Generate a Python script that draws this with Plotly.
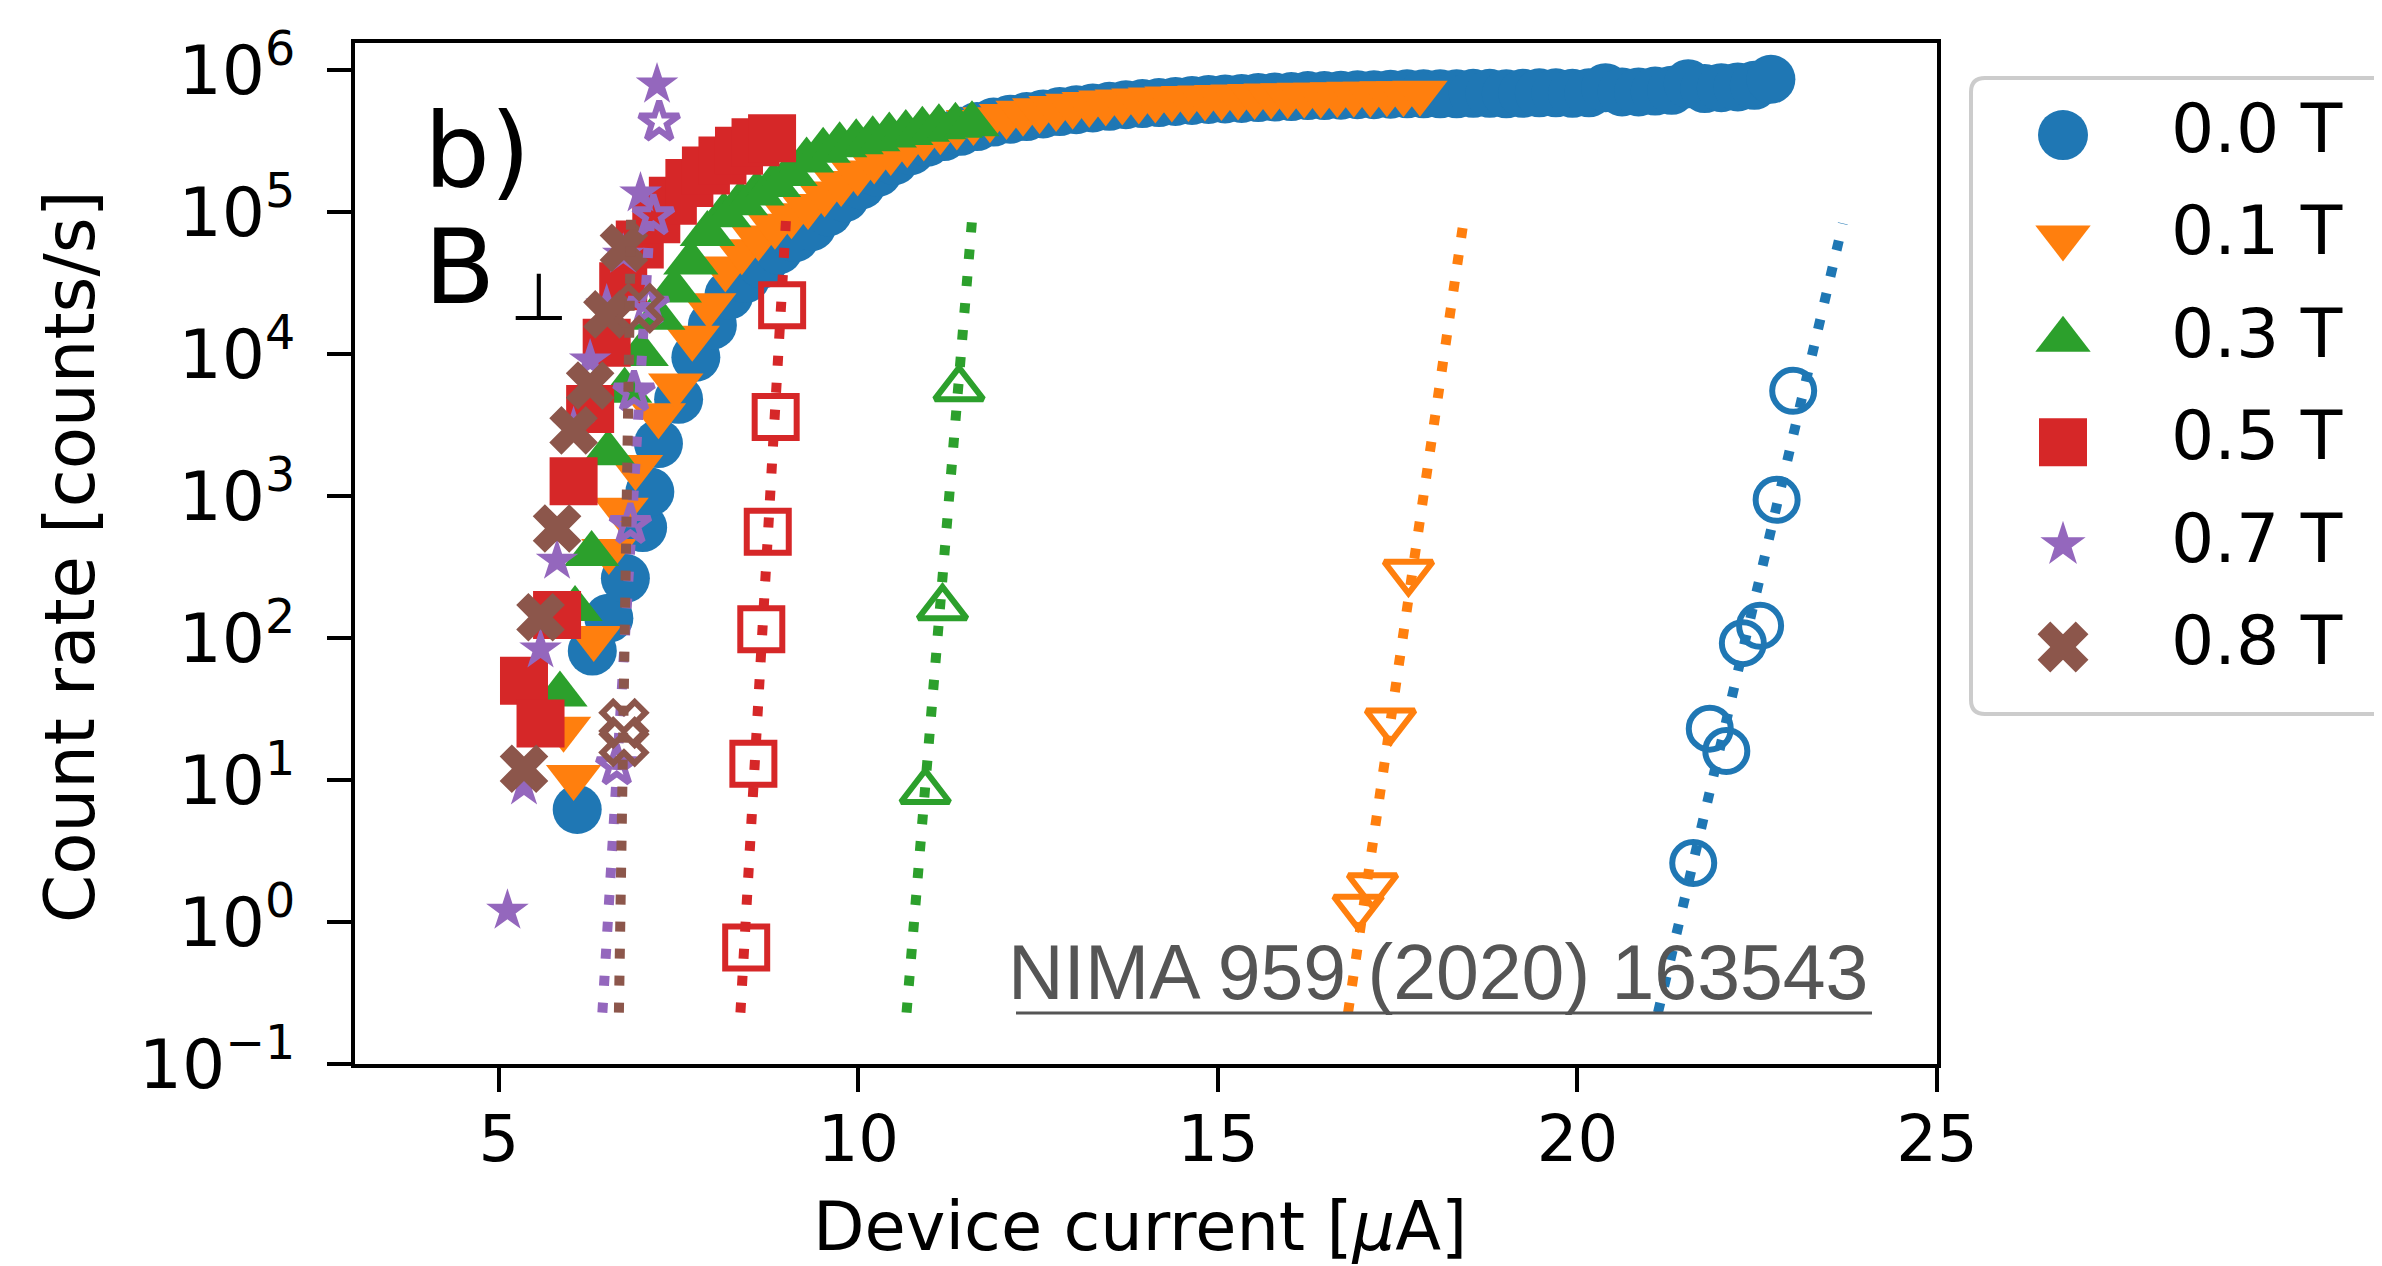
import plotly.graph_objects as go

W, H = 2382, 1266

# ---------------- data ----------------
field_labels = ["0.0 T", "0.1 T", "0.3 T", "0.5 T", "0.7 T", "0.8 T"]
colors = ["#1f77b4", "#ff7f0e", "#2ca02c", "#d62728", "#9467bd", "#8c564b"]

# measured (filled markers): device current [uA] / count rate [counts/s]
cur_00 = [6.09, 6.30, 6.53, 6.76, 7.00, 7.10, 7.22, 7.50,
          7.74, 7.97, 8.20, 8.43, 8.66, 8.89, 9.12, 9.35,
          9.58, 9.81, 10.04, 10.27, 10.50, 10.73, 10.96, 11.19, 11.42, 11.65, 11.88, 12.11, 12.34, 12.57, 12.80,
          13.03, 13.26, 13.49, 13.72, 13.95, 14.18, 14.41, 14.64, 14.87, 15.10, 15.33, 15.56, 15.79, 16.02, 16.25,
          16.48, 16.71, 16.94, 17.17, 17.40, 17.63, 17.86, 18.09, 18.32, 18.55, 18.78, 19.01, 19.24, 19.47, 19.70,
          19.93, 20.16, 20.39, 20.62, 20.85, 21.08, 21.31, 21.54, 21.77, 22.00, 22.23, 22.46, 22.69]
rate_00 = [6.2, 81, 138, 263, 600, 1070, 2340, 4800,
           9500, 1.6e4, 2.6e4, 3.4e4, 4.3e4, 5.4e4, 6.6e4, 7.9e4,
           1.0e5, 1.26e5, 1.55e5, 1.9e5, 2.3e5, 2.7e5, 3.1e5, 3.4e5, 3.7e5, 4.0e5, 4.3e5, 4.5e5, 4.7e5, 4.9e5, 5.1e5,
           5.25e5, 5.4e5, 5.55e5, 5.7e5, 5.8e5, 5.9e5, 6.0e5, 6.1e5, 6.2e5, 6.25e5, 6.3e5, 6.4e5, 6.45e5, 6.5e5, 6.6e5,
           6.6e5, 6.65e5, 6.7e5, 6.7e5, 6.75e5, 6.8e5, 6.8e5, 6.8e5, 6.8e5, 6.85e5, 6.85e5, 6.8e5, 6.85e5, 6.9e5, 6.9e5,
           6.85e5, 6.9e5, 7.5e5, 7.0e5, 7.0e5, 7.1e5, 7.2e5, 8.0e5, 7.4e5, 7.5e5, 7.6e5, 7.8e5, 8.6e5]

cur_01 = [5.90, 6.04, 6.32, 6.53, 6.70, 6.90, 7.22, 7.46,
          7.69, 7.92, 8.15, 8.38, 8.61, 8.84, 9.07, 9.30,
          9.53, 9.76, 9.99, 10.22, 10.45, 10.68, 10.91, 11.14, 11.37, 11.60,
          11.83, 12.06, 12.29, 12.52, 12.75, 12.98, 13.21, 13.44, 13.67, 13.90,
          14.13, 14.36, 14.59, 14.82, 15.05, 15.28, 15.51, 15.74, 15.97, 16.20,
          16.43, 16.66, 16.89, 17.12, 17.35, 17.58, 17.81]
rate_01 = [23, 10.5, 100, 410, 800, 1600, 3700, 6000,
           1.3e4, 2.2e4, 4.0e4, 5.3e4, 6.6e4, 8.0e4, 9.5e4, 1.1e5,
           1.35e5, 1.6e5, 1.9e5, 2.3e5, 2.65e5, 3.0e5, 3.35e5, 3.7e5, 4.0e5, 4.3e5,
           4.5e5, 4.75e5, 5.0e5, 5.2e5, 5.4e5, 5.6e5, 5.75e5, 5.9e5, 6.0e5, 6.1e5,
           6.2e5, 6.3e5, 6.35e5, 6.4e5, 6.45e5, 6.5e5, 6.55e5, 6.6e5, 6.65e5, 6.7e5,
           6.7e5, 6.75e5, 6.8e5, 6.8e5, 6.85e5, 6.85e5, 6.9e5]

cur_03 = [5.85, 6.06, 6.29, 6.52, 6.75, 6.98, 7.21, 7.44, 7.67, 7.90,
          8.13, 8.36, 8.59, 8.82, 9.05, 9.28, 9.51, 9.74, 9.97, 10.20,
          10.43, 10.66, 10.89, 11.12, 11.35, 11.58]
rate_03 = [40, 160, 390, 2000, 5500, 1.0e4, 1.8e4, 2.8e4, 4.4e4, 7.0e4,
           9.5e4, 1.15e5, 1.35e5, 1.55e5, 1.85e5, 2.3e5, 2.7e5, 2.95e5, 3.1e5, 3.25e5,
           3.45e5, 3.6e5, 3.8e5, 3.95e5, 4.05e5, 4.15e5]

cur_05 = [5.35, 5.58, 5.81, 6.04, 6.27, 6.50, 6.73, 6.96, 7.19, 7.42, 7.65, 7.88, 8.11, 8.34, 8.57, 8.80]
rate_05 = [50, 25, 145, 1270, 4100, 1.2e4, 3.0e4, 5.9e4, 8.9e4, 1.2e5, 1.6e5, 1.96e5, 2.3e5, 2.7e5, 3.1e5, 3.3e5]

cur_07 = [5.12, 5.35, 5.58, 5.81, 6.04, 6.27, 6.50, 6.73, 6.97, 7.20]
rate_07 = [1.2, 9, 83, 350, 3000, 9000, 2.2e4, 5.0e4, 1.35e5, 7.9e5]

cur_08 = [5.35, 5.58, 5.81, 6.04, 6.27, 6.51, 6.74]
rate_08 = [12, 140, 590, 2900, 6000, 1.9e4, 5.6e4]

# second measurement (open markers)
cur_00o = [21.61, 21.84, 22.07, 22.30, 22.54, 22.77, 23.00]
rate_00o = [2.6, 23, 16, 92, 122, 940, 5500]
cur_01o = [16.95, 17.15, 17.40, 17.65]
rate_01o = [1.27, 1.8, 26, 290]
cur_03o = [10.93, 11.17, 11.40]
rate_03o = [8.3, 163, 5700]
cur_05o = [8.44, 8.54, 8.65, 8.74, 8.85, 8.94]
rate_05o = [0.66, 13, 115, 560, 3600, 2.2e4]
cur_07o = [6.64, 6.83, 6.88, 7.08, 7.15, 7.23]
rate_07o = [12.6, 630, 5400, 2.2e4, 9.4e4, 4.3e5]
cur_08o = [6.74, 6.74, 6.95]
rate_08o = [18.6, 25, 2.1e4]

# exponential fits (dotted lines): end points
fit_cur_00 = [21.12, 23.69]
fit_rate_00 = [0.23, 8.3e4]
fit_cur_01 = [16.81, 18.43]
fit_rate_01 = [0.23, 9.6e4]
fit_cur_03 = [10.67, 11.59]
fit_rate_03 = [0.23, 1.0e5]
fit_cur_05 = [8.36, 9.00]
fit_rate_05 = [0.23, 1.0e5]
fit_cur_07 = [6.44, 7.11]
fit_rate_07 = [0.23, 1.0e5]
fit_cur_08 = [6.67, 6.84]
fit_rate_08 = [0.23, 1.0e5]

x_tick_vals = [5, 10, 15, 20, 25]
x_tick_text = ["5", "10", "15", "20", "25"]
y_tick_vals = [1e-1, 1e0, 1e1, 1e2, 1e3, 1e4, 1e5, 1e6]
y_tick_text = ["10<sup>\u22121</sup>", "10<sup>0</sup>", "10<sup>1</sup>", "10<sup>2</sup>",
               "10<sup>3</sup>", "10<sup>4</sup>", "10<sup>5</sup>", "10<sup>6</sup>"]

# ---------------- styling ----------------
FONT = "DejaVu Sans"
filled_sets = [(cur_00, rate_00), (cur_01, rate_01), (cur_03, rate_03),
               (cur_05, rate_05), (cur_07, rate_07), (cur_08, rate_08)]
open_sets = [(cur_00o, rate_00o), (cur_01o, rate_01o), (cur_03o, rate_03o),
             (cur_05o, rate_05o), (cur_07o, rate_07o), (cur_08o, rate_08o)]
fit_sets = [(fit_cur_00, fit_rate_00), (fit_cur_01, fit_rate_01), (fit_cur_03, fit_rate_03),
            (fit_cur_05, fit_rate_05), (fit_cur_07, fit_rate_07), (fit_cur_08, fit_rate_08)]
symbols = ["circle", "triangle-down", "triangle-up", "square", "star", "x"]
sizes = [49, 48, 48, 48, 32, 43]
open_sizes = [42, 42, 42, 42, 30, 38]

fig = go.Figure()

for (xs, ys), sym, sz, col, lab in zip(filled_sets, symbols, sizes, colors, field_labels):
    fig.add_trace(go.Scatter(
        x=xs, y=ys, mode="markers", name=lab, showlegend=False,
        marker=dict(symbol=sym, size=sz, color=col, opacity=1, line=dict(width=0)),
        xaxis="x", yaxis="y"))

for (xs, ys), (fx, fy), sym, sz, col, lab in zip(open_sets, fit_sets, symbols, open_sizes, colors, field_labels):
    fig.add_trace(go.Scatter(
        x=xs, y=ys, mode="markers", name=lab + " (2nd)", showlegend=False,
        marker=dict(symbol=sym + "-open", size=sz, color=col, opacity=1, line=dict(width=6, color=col)),
        xaxis="x", yaxis="y"))
    fig.add_trace(go.Scatter(
        x=fx, y=fy, mode="lines", name=lab + " fit", showlegend=False,
        line=dict(color=col, width=10, dash="10px,17px"),
        xaxis="x", yaxis="y"))

# hand-drawn legend on an auxiliary axis (to get full-size marker keys)
leg_rows = list(range(len(field_labels)))
fig.add_trace(go.Scatter(
    x=[92] * len(leg_rows), y=leg_rows, mode="markers", showlegend=False, hoverinfo="skip",
    marker=dict(symbol=symbols, size=[50, 48, 48, 48, 34, 45], color=colors, opacity=1,
                line=dict(width=0)),
    xaxis="x2", yaxis="y2", cliponaxis=False))
fig.add_trace(go.Scatter(
    x=[200] * len(leg_rows), y=leg_rows, mode="text", text=field_labels, showlegend=False,
    hoverinfo="skip", textposition="middle right",
    textfont=dict(family=FONT, size=68, color="black"),
    xaxis="x2", yaxis="y2", cliponaxis=False))

axis_common = dict(showgrid=False, zeroline=False, showline=True, linewidth=4, linecolor="black",
                   mirror=True, ticks="outside", ticklen=24, tickwidth=3.5, tickcolor="black",
                   automargin=False)

fig.update_layout(
    template="none",
    width=W, height=H,
    margin=dict(l=0, r=0, t=0, b=0),
    paper_bgcolor="white", plot_bgcolor="white",
    showlegend=False,
    xaxis=dict(domain=[347 / W, 1929 / W], range=[3, 25], tickvals=x_tick_vals,
               ticktext=x_tick_text, anchor="y", ticklabelstandoff=-8,
               tickfont=dict(family=FONT, size=64, color="black"), **axis_common),
    yaxis=dict(type="log", domain=[1 - 1056 / H, 1 - 35 / H], range=[-1, 6.19],
               tickvals=y_tick_vals, ticktext=y_tick_text, anchor="x", ticklabelstandoff=18,
               tickfont=dict(family=FONT, size=68, color="black"), **axis_common),
    xaxis2=dict(domain=[1963 / W, 1.0], range=[0, 419], visible=False, anchor="y2", fixedrange=True),
    yaxis2=dict(domain=[1 - 706 / H, 1 - 70 / H], range=[5.654, -0.557], visible=False,
                anchor="x2", fixedrange=True),
)

# legend frame (rounded left corners, right side runs off the figure)
x0, x1 = 1963 / W, 2420 / W
yt, yb = 1 - 70 / H, 1 - 706 / H
rx, ry = 14 / W, 14 / H
fig.add_shape(type="path", xref="paper", yref="paper",
              path=(f"M {x0 + rx},{yt} L {x1},{yt} L {x1},{yb} L {x0 + rx},{yb} "
                    f"Q {x0},{yb} {x0},{yb + ry} L {x0},{yt - ry} Q {x0},{yt} {x0 + rx},{yt} Z"),
              line=dict(color="#cccccc", width=4), fillcolor="rgba(0,0,0,0)", layer="above")

# underline of the reference citation
fig.add_shape(type="line", xref="paper", yref="paper",
              x0=1008 / W, x1=1864 / W, y0=1 - 1005 / H, y1=1 - 1005 / H,
              line=dict(color="#555555", width=3), layer="above")

ann = []
ann.append(dict(text="b)", x=414 / W, y=1 - 143 / H, xanchor="left", yanchor="middle",
                font=dict(family=FONT, size=104, color="black")))
ann.append(dict(text="B", x=414 / W, y=1 - 259 / H, xanchor="left", yanchor="middle",
                font=dict(family=FONT, size=104, color="black")))
ann.append(dict(text="\u22a5", x=531 / W, y=1 - 290 / H, xanchor="center", yanchor="middle",
                font=dict(family=FONT, size=66, color="black")))
ann.append(dict(text="NIMA 959 (2020) 163543",
                x=1862 / W, y=1 - 964 / H, xanchor="right", yanchor="middle",
                font=dict(family="Liberation Sans", size=77, color="#555555")))
ann.append(dict(text="Count rate [counts/s]", x=62 / W, y=1 - 549 / H, textangle=-90,
                xanchor="center", yanchor="middle", font=dict(family=FONT, size=69, color="black")))
ann.append(dict(text="Device current [<i>\u03bc</i>A]", x=1132 / W, y=1 - 1219 / H,
                xanchor="center", yanchor="middle", font=dict(family=FONT, size=67, color="black")))
for a in ann:
    a.update(xref="paper", yref="paper", showarrow=False)
fig.update_layout(annotations=ann)

fig.write_html("out.html")
